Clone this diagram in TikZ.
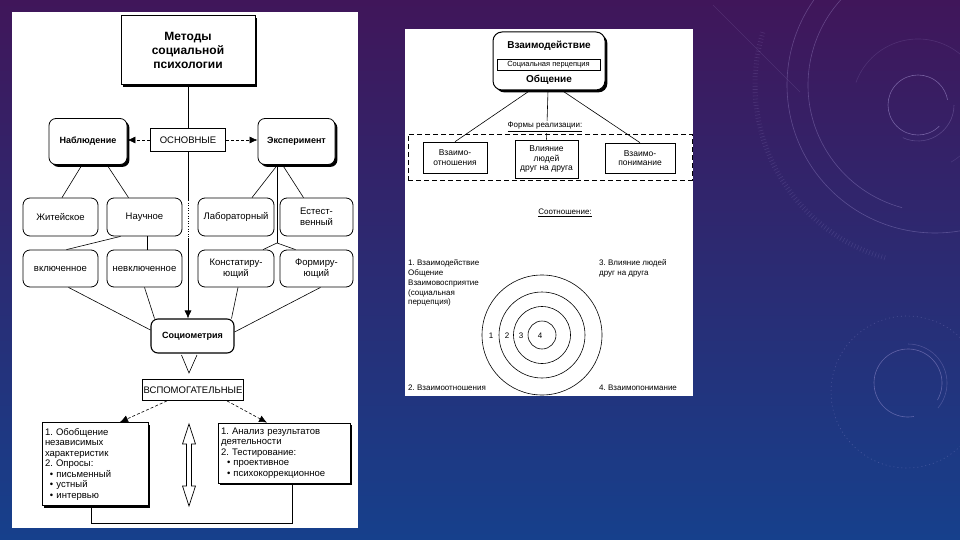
\documentclass[tikz,border=0pt]{standalone}
\usepackage{fontspec}
\setmainfont{Liberation Sans}
\usetikzlibrary{arrows.meta,calc,shadows}
\definecolor{bgtop}{RGB}{64,22,90}
\definecolor{bgmid}{RGB}{38,38,112}
\definecolor{bgbot}{RGB}{22,64,140}
\definecolor{decocol}{RGB}{190,175,235}
\frenchspacing
\begin{document}
\begin{tikzpicture}[x=1pt,y=-1pt,
  box/.style={draw, line width=0.8pt, inner sep=1pt, align=center, font=\fontsize{9.5}{10.5}\selectfont},
  rbox/.style={box, rounded corners=7pt},
  shad/.style={fill=white, drop shadow={shadow xshift=2.4pt, shadow yshift=-2.4pt, fill=black, opacity=1}},
  bold/.style={font=\bfseries\fontsize{9}{10.5}\selectfont},
  conn/.style={line width=0.6pt},
  dconn/.style={line width=0.6pt, dash pattern=on 3pt off 2pt},
  tip/.style={-{Latex[length=8pt,width=7pt]}},
  deco/.style={draw=decocol, line width=0.6pt, opacity=0.3},
  small/.style={font=\fontsize{8}{9.8}\selectfont, inner sep=0pt},
  sbox/.style={draw, line width=0.6pt, inner sep=1pt, align=center, font=\fontsize{8.5}{9.5}\selectfont},
]
\useasboundingbox (0,0) rectangle (960,540);
% background
\shade[top color=bgtop, middle color=bgmid, bottom color=bgbot] (0,0) rectangle (960,540);
\begin{scope}
\clip (0,0) rectangle (960,540);
\draw[deco] (935,85) ++(222:148) arc[start angle=222, end angle=60, radius=148];
\draw[deco] (935,85) ++(235:127) arc[start angle=235, end angle=105, radius=127];
\draw[decocol, opacity=0.15, line width=5pt, dash pattern=on 0.6pt off 2.6pt] (935,85) ++(197:180) arc[start angle=197, end angle=106, radius=180];
\draw[deco, opacity=0.15] (918,105) ++(200:66) arc[start angle=200, end angle=420, radius=66];
\draw[deco, opacity=0.45] (918,105) ++(45:30) arc[start angle=45, end angle=350, radius=30];
\draw[deco, opacity=0.25] (918,105) ++(0:36) arc[start angle=0, end angle=115, radius=36];
\draw[deco, opacity=0.15] (713,5) -- (800,92);
\draw[deco, opacity=0.4] (908,383) ++(80:34) arc[start angle=80, end angle=390, radius=34];
\draw[deco, opacity=0.25] (908,383) ++(270:39) arc[start angle=270, end angle=400, radius=39];
\draw[deco, opacity=0.25, dash pattern=on 1pt off 3pt] (907,392) circle[radius=76];
\end{scope}
% panels
\fill[white] (12,12) rectangle (358,528);
\fill[white] (405,29) rectangle (693,396);

% ---------- left diagram ----------
\node[box, shad, minimum width=134pt, minimum height=69pt, font=\bfseries\fontsize{12}{14}\selectfont] (title) at (188,50) {Методы\\социальной\\психологии};
\node[rbox, shad, minimum width=78pt, minimum height=46pt, bold] (nabl) at (88,141.5) {Наблюдение};
\node[box, minimum width=75pt, minimum height=23pt] (osn) at (188,140) {ОСНОВНЫЕ};
\node[rbox, shad, minimum width=77pt, minimum height=46pt, bold] (eksp) at (296.5,141.5) {Эксперимент};

\node[rbox, minimum width=75pt, minimum height=38pt] (zhit) at (60.5,217) {Житейское};
\node[rbox, minimum width=75pt, minimum height=38pt] (nauch) at (144.5,217) {Научное};
\node[rbox, minimum width=76pt, minimum height=38pt] (labor) at (236,217) {Лабораторный};
\node[rbox, minimum width=73pt, minimum height=38pt] (estest) at (316.5,217) {Естест-\\венный};

\node[rbox, minimum width=75pt, minimum height=37pt] (vkl) at (60.5,268.5) {включенное};
\node[rbox, minimum width=75pt, minimum height=37pt] (nevkl) at (144.5,268.5) {невключенное};
\node[rbox, minimum width=76pt, minimum height=37pt] (konst) at (236,268.5) {Констатиру-\\ющий};
\node[rbox, minimum width=73pt, minimum height=37pt] (form) at (316.5,268.5) {Формиру-\\ющий};

\node[rbox, line width=1.1pt, minimum width=83pt, minimum height=34pt, bold] (socio) at (192.5,336) {Социометрия};
\node[box, minimum width=100pt, minimum height=21pt] (vspom) at (193,390) {ВСПОМОГАТЕЛЬНЫЕ};

\node[box, shad, minimum width=106pt, minimum height=83pt, text width=100pt, align=left] (boxL) at (95,464)
 {1. Обобщение\\независимых\\характеристик\\2. Опросы:\\\hspace*{5pt}• письменный\\\hspace*{5pt}• устный\\\hspace*{5pt}• интервью};
\node[box, shad, minimum width=132pt, minimum height=60pt, text width=126pt, align=left] (boxR) at (284,453)
 {1. Анализ результатов\\деятельности\\2. Тестирование:\\\hspace*{6pt}• проективное\\\hspace*{6pt}• психокоррекционное};

% connectors left
\coordinate (m1) at (188,200);
\coordinate (m2) at (188,238);
\coordinate (split) at (277,243);
\coordinate (bl) at (91,523);
\coordinate (br) at (292,523);
\draw[conn] (title.south) -- (title.south |- osn.north);
\draw[conn] (osn.south) -- (m1);
\draw[conn, dotted] (m1) -- (m2);
\draw[conn, tip] (m2) -- (m2 |- socio.north);
\draw[dconn, tip] (osn.west) -- (nabl.east |- osn.west);
\draw[dconn, tip] (osn.east) -- (eksp.west |- osn.east);

\draw[conn] ($(nabl.south)+(-6,0)$) -- ($(zhit.north)+(1.5,0)$);
\draw[conn] ($(nabl.south)+(19,0)$) -- ($(nauch.north)+(-16,0)$);
\draw[conn] ($(eksp.south)+(-19,0)$) -- ($(labor.north)+(16,0)$);
\draw[conn] (eksp.south -| split) -- (split);
\draw[conn] ($(eksp.south)+(-14,0)$) -- ($(estest.north)+(-13,0)$);
\draw[conn] (split) -- ($(konst.north)+(27,0)$);
\draw[conn] (split) -- ($(form.north)+(-21,0)$);
\draw[conn] ($(nauch.south)+(2.5,0)$) -- ($(nevkl.north)+(2.5,0)$);
\draw[conn] ($(nauch.south)+(-24,0)$) -- ($(vkl.north)+(6,0)$);

\draw[conn] ($(vkl.south)+(8,0)$) -- ($(socio.west)+(0,-6)$);
\draw[conn] (nevkl.south) -- ($(socio.north)+(-38,0)$);
\draw[conn] ($(konst.south)+(2,0)$) -- ($(socio.north)+(39,0)$);
\draw[conn] ($(form.south)+(4,0)$) -- ($(socio.east)+(0,-4)$);

\draw[conn] (181.5,355) -- (189,373) -- (197,355);

\draw[dconn, tip] ($(vspom.south)+(-26,0)$) -- ($(boxL.north)+(25,0)$);
\draw[dconn, tip] ($(vspom.south)+(34,0)$) -- ($(boxR.north)+(-17,0)$);

\draw[line width=0.7pt] (189,424) -- (195.5,444) -- (191.5,444) -- (191.5,486) -- (195.5,486) -- (189,506)
  -- (182.5,486) -- (186.5,486) -- (186.5,444) -- (182.5,444) -- cycle;

\draw[conn] (boxL.south -| bl) -- (bl) -- (br) -- (boxR.south -| br);

% ---------- right diagram ----------
\node[rbox, shad, line width=1pt, rounded corners=9pt, minimum width=112pt, minimum height=58pt] (vz) at (549,61) {};
\node[font=\bfseries\fontsize{10}{12}\selectfont, inner sep=0pt] (vzt) at (549,46) {Взаимодействие};
\node[draw, line width=0.5pt, minimum width=103pt, minimum height=11pt, inner sep=0pt, font=\fontsize{7.5}{8}\selectfont] (vzp) at (548.5,64.5) {Социальная перцепция};
\node[font=\bfseries\fontsize{10}{12}\selectfont, inner sep=0pt] (vzb) at (549,80) {Общение};

\node[draw, line width=0.6pt, dash pattern=on 5pt off 3pt, minimum width=284pt, minimum height=46pt] (forms) at (550,157) {};
\node[sbox, minimum width=64pt, minimum height=31pt] (vo) at (455,157.5) {Взаимо-\\отношения};
\node[sbox, minimum width=63pt, minimum height=38pt] (vl) at (546.5,159) {Влияние\\людей\\друг на друга};
\node[sbox, minimum width=70pt, minimum height=30pt] (vp) at (640,158) {Взаимо-\\понимание};

\draw[conn] ($(vz.south)+(-19,0)$) -- (vo.north);
\draw[conn] ($(vz.south)+(-1,0)$) -- (vl.north);
\draw[conn] ($(vz.south)+(13,0)$) -- (vp.north);
\node[fill=white, inner sep=1pt, font=\fontsize{8}{9}\selectfont] (fr) at (545,127) {\underline{Формы реализации:}};

\node[font=\fontsize{8}{9}\selectfont, inner sep=1pt] (sootn) at (565,213) {\underline{Соотношение:}};

\node[small, anchor=north west, align=left] (t1) at (408,259.5) {1. Взаимодействие\\Общение\\Взаимовосприятие\\(социальная\\перцепция)};
\node[small, anchor=north west, align=left] (t3) at (599,259.5) {3. Влияние людей\\друг на друга};
\node[small, anchor=west] (t2) at (408,388) {2. Взаимоотношения};
\node[small, anchor=west] (t4) at (599,388) {4. Взаимопонимание};

\node[circle, draw, line width=0.6pt, minimum size=120pt, inner sep=0pt] (c1) at (542,335) {};
\node[circle, draw, line width=0.6pt, minimum size=86pt, inner sep=0pt] (c2) at (542,335) {};
\node[circle, draw, line width=0.6pt, minimum size=57pt, inner sep=0pt] (c3) at (542,335) {};
\node[circle, draw, line width=0.6pt, minimum size=28pt, inner sep=0pt] (c4) at (542,335) {};
\node[small] (l1) at (491,336) {1};
\node[small] (l2) at (507,336) {2};
\node[small] (l3) at (521,336) {3};
\node[small] (l4) at (540,336) {4};
\end{tikzpicture}
\end{document}
